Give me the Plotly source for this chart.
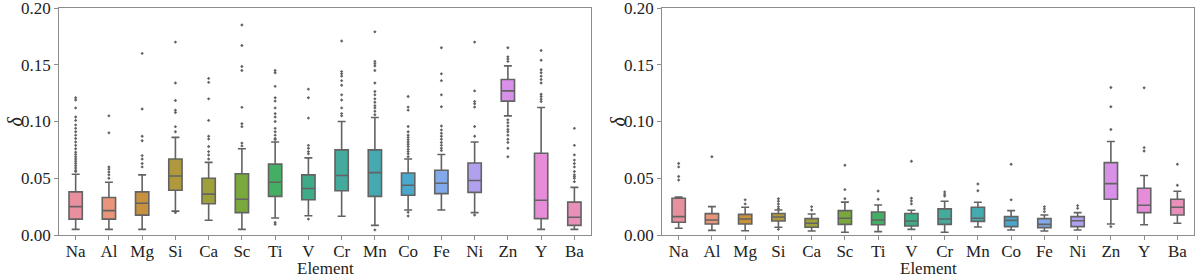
import plotly.graph_objects as go
from plotly.subplots import make_subplots

elements = ["Na", "Al", "Mg", "Si", "Ca", "Sc", "Ti", "V", "Cr", "Mn", "Co", "Fe", "Ni", "Zn", "Y", "Ba"]
colors = ["#e8909e", "#e8957a", "#c8913e", "#b0983e", "#9ea03a", "#7aa83c", "#44ae64", "#3daa88",
          "#44aa9c", "#45a9b0", "#4aa8cc", "#82aaea", "#b0a0ee", "#d890e8", "#e68cd8", "#e890b8"]

# Left panel statistics
left_low = [0.005, 0.005, 0.005, 0.021, 0.013, 0.005, 0.015, 0.017, 0.0165, 0.0085, 0.022, 0.022, 0.0197, 0.105, 0.005, 0.005]
left_q1 = [0.014, 0.014, 0.0175, 0.0395, 0.0275, 0.0197, 0.034, 0.031, 0.039, 0.034, 0.035, 0.0365, 0.0376, 0.118, 0.0144, 0.0085]
left_med = [0.025, 0.0215, 0.028, 0.052, 0.036, 0.0315, 0.0465, 0.041, 0.0525, 0.055, 0.0438, 0.0456, 0.048, 0.127, 0.0306, 0.0156]
left_q3 = [0.038, 0.033, 0.038, 0.067, 0.050, 0.054, 0.0625, 0.053, 0.075, 0.075, 0.0547, 0.057, 0.0635, 0.137, 0.072, 0.029]
left_high = [0.0535, 0.0465, 0.053, 0.086, 0.064, 0.076, 0.082, 0.068, 0.100, 0.1035, 0.067, 0.071, 0.082, 0.149, 0.1124, 0.042]
left_out = [
    [0.121, 0.119, 0.112, 0.104, 0.101, 0.097, 0.094, 0.091, 0.088, 0.085, 0.082, 0.079, 0.076, 0.073, 0.071, 0.069, 0.067, 0.065, 0.063, 0.061, 0.059, 0.057, 0.056],
    [0.105, 0.090, 0.060, 0.058, 0.0555, 0.053, 0.050],
    [0.160, 0.111, 0.087, 0.083, 0.070, 0.067, 0.063, 0.060],
    [0.170, 0.134, 0.1185, 0.110, 0.108, 0.0955, 0.091, 0.0197],
    [0.138, 0.1345, 0.120, 0.101, 0.087, 0.0845, 0.078, 0.0735, 0.0705, 0.067],
    [0.185, 0.167, 0.1485, 0.145, 0.1125, 0.098, 0.0955, 0.081, 0.0785],
    [0.145, 0.143, 0.131, 0.121, 0.118, 0.112, 0.107, 0.104, 0.100, 0.094, 0.091, 0.088, 0.085, 0.084, 0.011, 0.0095],
    [0.1285, 0.121, 0.103, 0.079, 0.0765, 0.0735, 0.0715, 0.014],
    [0.171, 0.144, 0.142, 0.140, 0.136, 0.132, 0.1235, 0.119, 0.112, 0.107, 0.105],
    [0.179, 0.153, 0.151, 0.149, 0.145, 0.134, 0.1265, 0.1235, 0.120, 0.117, 0.114, 0.112, 0.109, 0.106, 0.0045],
    [0.122, 0.1127, 0.110, 0.0956, 0.091, 0.088, 0.086, 0.084, 0.082, 0.080, 0.078, 0.0756, 0.0735, 0.0715, 0.069, 0.020, 0.0168],
    [0.165, 0.142, 0.136, 0.1235, 0.113, 0.096, 0.0926, 0.0897, 0.087, 0.0844, 0.0815, 0.079, 0.0765, 0.0744],
    [0.170, 0.127, 0.1176, 0.1156, 0.1127, 0.0956, 0.087, 0.0176],
    [0.165, 0.157, 0.155, 0.153, 0.1015, 0.099, 0.096, 0.093, 0.091, 0.088, 0.0844, 0.0815, 0.0765, 0.069],
    [0.1626, 0.154, 0.1456, 0.143, 0.140, 0.137, 0.134, 0.124, 0.122, 0.1197, 0.1176],
    [0.094, 0.079, 0.0706, 0.066, 0.063, 0.060, 0.056, 0.053, 0.0515, 0.050, 0.047],
]

# Right panel statistics
right_low = [0.0059, 0.0041, 0.0038, 0.0068, 0.0035, 0.0024, 0.003, 0.005, 0.0024, 0.007, 0.0044, 0.0035, 0.0044, 0.0097, 0.0091, 0.0103]
right_q1 = [0.0112, 0.0097, 0.0097, 0.0124, 0.0068, 0.0094, 0.0091, 0.0079, 0.0094, 0.012, 0.0074, 0.0065, 0.0074, 0.0315, 0.0197, 0.0176]
right_med = [0.0162, 0.0132, 0.0141, 0.0159, 0.0103, 0.0147, 0.0132, 0.0124, 0.0141, 0.0147, 0.0129, 0.0094, 0.0126, 0.0453, 0.0262, 0.0244]
right_q3 = [0.0324, 0.0188, 0.0182, 0.019, 0.0144, 0.0215, 0.0203, 0.019, 0.023, 0.0244, 0.0162, 0.0144, 0.0162, 0.0638, 0.0412, 0.0315]
right_high = [0.0335, 0.025, 0.0244, 0.022, 0.0185, 0.029, 0.0265, 0.0218, 0.0297, 0.0288, 0.0215, 0.0176, 0.0197, 0.0824, 0.0524, 0.0385]
right_out = [
    [0.063, 0.060, 0.0515, 0.0485],
    [0.069],
    [0.031, 0.0274],
    [0.032, 0.0297, 0.0274, 0.025, 0.0232, 0.005],
    [0.025, 0.022],
    [0.0615, 0.040, 0.032],
    [0.0388, 0.0315],
    [0.065, 0.0324, 0.030, 0.0274],
    [0.038, 0.036, 0.0344],
    [0.045, 0.039],
    [0.0624, 0.031],
    [0.025, 0.023, 0.0206],
    [0.0259, 0.0235],
    [0.130, 0.113, 0.093, 0.0074],
    [0.1297, 0.077, 0.074],
    [0.0624, 0.0438],
]

y_ticks = [0.0, 0.05, 0.10, 0.15, 0.20]
y_tick_labels = ["0.00", "0.05", "0.10", "0.15", "0.20"]
x_title = "Element"
y_title = "<i>δ</i>"

LINE = "#636363"
FONT = "Liberation Serif"
TXT = "#222"

fig = make_subplots(rows=1, cols=2)

panels = [
    (1, left_low, left_q1, left_med, left_q3, left_high, left_out),
    (2, right_low, right_q1, right_med, right_q3, right_high, right_out),
]
for col, lo, q1, md, q3, hi, outs in panels:
    for i, el in enumerate(elements):
        fig.add_trace(go.Box(
            x=[el], q1=[q1[i]], median=[md[i]], q3=[q3[i]],
            lowerfence=[lo[i]], upperfence=[hi[i]],
            fillcolor=colors[i], line=dict(color=LINE, width=1.6),
            width=0.4, whiskerwidth=0.6, boxpoints=False,
            showlegend=False, hoverinfo="skip",
        ), row=1, col=col)
    ox, oy = [], []
    for i, el in enumerate(elements):
        ox += [el] * len(outs[i])
        oy += outs[i]
    fig.add_trace(go.Scatter(
        x=ox, y=oy, mode="markers",
        marker=dict(symbol="diamond", size=2.6, color=LINE),
        showlegend=False, hoverinfo="skip",
    ), row=1, col=col)

axis_common = dict(
    showline=True, mirror=True, linecolor="#8c8c8c", linewidth=1,
    ticks="outside", ticklen=4, tickcolor="#8c8c8c", showgrid=False, zeroline=False,
    tickfont=dict(family=FONT, size=17, color=TXT),
    ticklabeloverflow="allow", automargin=False,
)
x_domains = [[0.0492, 0.4925], [0.5517, 0.995]]
for col, dom in zip([1, 2], x_domains):
    fig.update_xaxes(domain=dom, categoryorder="array", categoryarray=elements,
                     range=[-0.5, 15.5], ticklabelstandoff=-3,
                     row=1, col=col, **axis_common)
    fig.update_yaxes(domain=[0.1516, 0.971], range=[0, 0.20001], tickvals=y_ticks, ticktext=y_tick_labels,
                     row=1, col=col, **axis_common)
    fig.add_annotation(text=x_title, xref="paper", yref="paper", x=(dom[0] + dom[1]) / 2, y=0.032,
                       xanchor="center", yanchor="middle", showarrow=False,
                       font=dict(family=FONT, size=17, color=TXT))
    fig.add_annotation(text=y_title, xref="paper", yref="paper", x=dom[0] - 0.037, y=0.56,
                       xanchor="center", yanchor="middle", showarrow=False, textangle=-90,
                       font=dict(family=FONT, size=20, color=TXT))

fig.update_layout(
    width=1200, height=277, margin=dict(l=0, r=0, t=0, b=0),
    paper_bgcolor="white", plot_bgcolor="white", boxmode="overlay",
    font=dict(family=FONT),
)

fig.write_html("out.html", config={"displayModeBar": False},
               post_script="document.body.style.margin='0';document.body.style.overflow='hidden';")
